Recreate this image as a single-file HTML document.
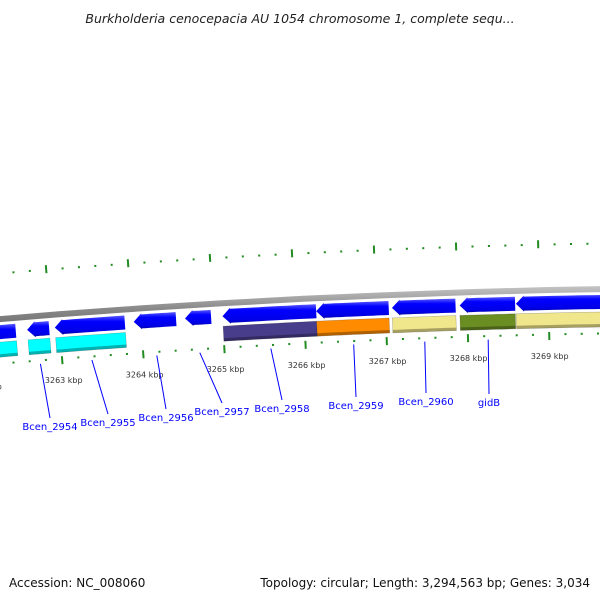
<!DOCTYPE html>
<html><head><meta charset="utf-8"><style>
html,body{margin:0;padding:0;background:#fff}
svg{display:block}
text{font-family:"DejaVu Sans","Liberation Sans",sans-serif}
</style></head><body>
<svg id="map" width="600" height="600" viewBox="0 0 600 600" xmlns="http://www.w3.org/2000/svg">
<defs>
<linearGradient id="gBlue" x1="0" y1="0" x2="0" y2="1"><stop offset="0" stop-color="#5a5aff"/><stop offset="0.3" stop-color="#0000ff"/><stop offset="0.8" stop-color="#0000e6"/><stop offset="1" stop-color="#00009a"/></linearGradient>
<linearGradient id="gBack" x1="0" y1="0" x2="0" y2="1"><stop offset="0" stop-color="#c8c8c8"/><stop offset="0.5" stop-color="#8a8a8a"/><stop offset="1" stop-color="#6a6a6a"/></linearGradient>
</defs>
<text x="300" y="23" text-anchor="middle" font-size="12.5" font-style="italic" fill="#222">Burkholderia cenocepacia AU 1054 chromosome 1, complete sequ...</text>
<g id="layer"></g>
<text x="9" y="587" font-size="12" fill="#111">Accession: NC_008060</text>
<text x="590" y="587" text-anchor="end" font-size="12" fill="#111">Topology: circular; Length: 3,294,563 bp; Genes: 3,034</text>
</svg>
<script>
const geneNames = ["", "Bcen_2954", "Bcen_2955", "Bcen_2956", "Bcen_2957", "Bcen_2958", "Bcen_2959", "Bcen_2960", "gidB", ""];
const geneStart = [3261.9, 3262.6, 3262.94, 3263.91, 3264.54, 3265.0, 3266.15, 3267.08, 3267.91, 3268.6];
const geneEnd   = [3262.46, 3262.87, 3263.8, 3264.43, 3264.86, 3266.15, 3267.04, 3267.86, 3268.59, 3270.8];
const cogColor  = ["#00ffff", "#00ffff", "#00ffff", "", "", "#483d8b", "#ff8c00", "#f0e68c", "#6b8e23", "#f0e68c"];
const majorTicks = [3262, 3263, 3264, 3265, 3266, 3267, 3268, 3269, 3270];
const tickLabels = ["3262 kbp", "3263 kbp", "3264 kbp", "3265 kbp", "3266 kbp", "3267 kbp", "3268 kbp", "3269 kbp", "3270 kbp"];
const upperTickOffset = 0.89;
const labelX = [0, 50, 108, 166, 222, 282, 356, 426, 489, 0];
const labelY = [0, 430, 426, 421, 415, 412, 409, 405, 406, 0];

const NS = "http://www.w3.org/2000/svg";
const CX = 750, R = 9000, CY = 287.75 + R, P0 = 3271.47, K = 81.7 / R;
function pt(p, off) { const t = (p - P0) * K, r = R - off; return [CX + r * Math.sin(t), CY - r * Math.cos(t)]; }
const layer = document.getElementById('layer');
function mk(tag, attrs) { const e = document.createElementNS(NS, tag); for (const k in attrs) e.setAttribute(k, attrs[k]); layer.appendChild(e); return e; }
function band(p1, p2, o1, o2) {
  const pts = []; const n = 12;
  for (let i = 0; i <= n; i++) pts.push(pt(p1 + (p2 - p1) * i / n, o1));
  for (let i = n; i >= 0; i--) pts.push(pt(p1 + (p2 - p1) * i / n, o2));
  return pts.map(a => a[0].toFixed(1) + "," + a[1].toFixed(1)).join(" ");
}
// backbone
const bb = mk('polygon', { points: band(3261, 3273, -3, 3), fill: 'url(#gBack)' });


// ticks
for (let p = 3261; p <= 3271.01; p += 0.2) {
  const pr = Math.round(p * 10) / 10;
  const major = majorTicks.some(m => Math.abs(m - pr) < 1e-6);
  const a = pt(pr, major ? 42 : 43.5), b = pt(pr, major ? 50 : 45.5);
  const l = mk('line', { x1: a[0], y1: a[1], x2: b[0], y2: b[1], stroke: '#228b22', 'stroke-width': 2 });
  
  
  const pu = pr + upperTickOffset;
  const au = pt(pu, major ? -42 : -44.5), bu = pt(pu, major ? -50 : -46.5);
  const u = mk('line', { x1: au[0], y1: au[1], x2: bu[0], y2: bu[1], stroke: '#228b22', 'stroke-width': 2 });
  
  
}
majorTicks.forEach((m, i) => {
  const c = pt(m, 66);
  const t = mk('text', { x: c[0], y: c[1] + 3, 'text-anchor': 'middle', 'font-size': 8, fill: '#333' });
  t.textContent = tickLabels[i];
  
  
});
// genes
geneStart.forEach((s, i) => {
  const e = geneEnd[i];
  const head = Math.min(8 / 81.7, (e - s) * 0.4);
  const p1 = pt(s, 13), a1 = pt(s + head, 5), a2 = pt(s + head, 21);
  const body = band(s + head, e, 6, 20);
  const pts = body.split(" ");
  const n = pts.length / 2;
  const poly = [p1.join(","), a1.join(",")].concat(pts.slice(0, n)).concat(pts.slice(n)).concat([a2.join(",")]);
  const g = mk('polygon', { points: poly.join(" "), fill: 'url(#gBlue)' });
  
  
  if (cogColor[i]) {
    const c = mk('polygon', { points: band(s, e, 23, 38), fill: cogColor[i], stroke: 'rgba(0,0,0,0.25)', 'stroke-width': 0.6 });
    
    
    const sh = mk('polygon', { points: band(s, e, 35, 38), fill: 'rgba(0,0,0,0.3)' });
    
    
  }
  if (geneNames[i]) {
    const mid = (s + e) / 2;
    const a = pt(mid, 42);
    const ln = mk('line', { x1: a[0], y1: a[1] + 6, x2: labelX[i], y2: labelY[i] - 12, stroke: '#0000ff', 'stroke-width': 1 });
    
    
    const t = mk('text', { x: labelX[i], y: labelY[i], 'text-anchor': 'middle', 'font-size': 10, fill: '#0000ff' });
    t.textContent = geneNames[i];
    
    
  }
});
</script>
</body></html>
